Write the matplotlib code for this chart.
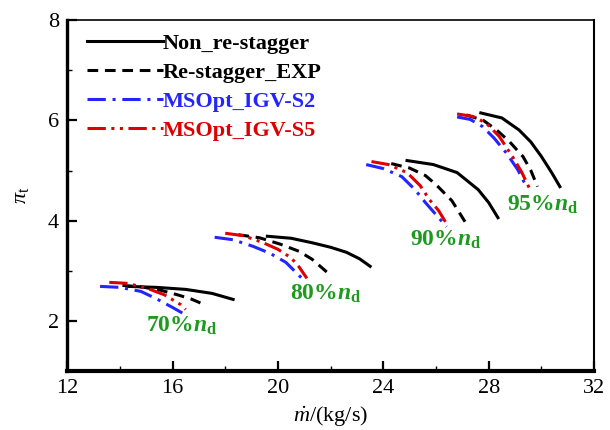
import matplotlib
matplotlib.use('Agg')
import matplotlib.pyplot as plt
from matplotlib.ticker import MultipleLocator

plt.rcParams['font.family'] = ['Liberation Serif', 'DejaVu Serif']
plt.rcParams['mathtext.fontset'] = 'custom'
plt.rcParams['mathtext.rm'] = 'Liberation Serif'
plt.rcParams['mathtext.it'] = 'Liberation Serif:italic'
plt.rcParams['mathtext.bf'] = 'Liberation Serif:bold'
plt.rcParams['mathtext.bfit'] = 'Liberation Serif:italic:bold'

# 70% speed line
ns70_x = [14.3, 15.4, 16.5, 17.5, 18.3]
ns70_y = [2.69, 2.67, 2.63, 2.55, 2.43]
exp70_x = [14.1, 14.8, 15.5, 16.2, 16.7, 17.1]
exp70_y = [2.71, 2.68, 2.62, 2.52, 2.44, 2.35]
s2_70_x = [13.25, 14.0, 14.8, 15.4, 16.0, 16.4]
s2_70_y = [2.69, 2.67, 2.59, 2.44, 2.27, 2.15]
s5_70_x = [13.6, 14.3, 15.1, 15.7, 16.3, 16.5]
s5_70_y = [2.77, 2.75, 2.64, 2.52, 2.33, 2.23]

# 80% speed line
ns80_x = [19.6, 20.5, 21.3, 22.0, 22.6, 23.1, 23.5]
ns80_y = [3.69, 3.65, 3.56, 3.47, 3.37, 3.24, 3.09]
exp80_x = [18.5, 19.3, 20.1, 20.8, 21.3, 22.0]
exp80_y = [3.72, 3.66, 3.53, 3.39, 3.23, 2.91]
s2_80_x = [17.6, 18.3, 19.05, 19.7, 20.3, 20.95]
s2_80_y = [3.67, 3.62, 3.49, 3.35, 3.17, 2.83]
s5_80_x = [18.0, 18.7, 19.4, 20.0, 20.5, 20.8, 21.1]
s5_80_y = [3.75, 3.70, 3.57, 3.43, 3.26, 3.08, 2.85]

# 90% speed line
ns90_x = [24.9, 25.9, 26.8, 27.6, 28.0, 28.35]
ns90_y = [5.20, 5.12, 4.96, 4.62, 4.36, 4.06]
exp90_x = [24.3, 25.0, 25.6, 26.0, 26.6, 27.1]
exp90_y = [5.14, 5.05, 4.90, 4.72, 4.40, 3.98]
s2_90_x = [23.35, 24.0, 24.7, 25.2, 25.6, 26.0, 26.4]
s2_90_y = [5.12, 5.04, 4.88, 4.62, 4.36, 4.12, 3.88]
s5_90_x = [23.55, 24.2, 24.9, 25.4, 25.75, 26.1, 26.4]
s5_90_y = [5.18, 5.12, 4.96, 4.70, 4.42, 4.20, 3.94]

# 95% speed line
ns95_x = [27.7, 28.5, 29.15, 29.6, 30.0, 30.4, 30.7]
ns95_y = [6.15, 6.05, 5.81, 5.57, 5.28, 4.95, 4.68]
exp95_x = [27.15, 27.8, 28.3, 28.8, 29.3, 29.6, 29.85]
exp95_y = [6.11, 6.00, 5.81, 5.57, 5.28, 5.00, 4.68]
s2_95_x = [26.8, 27.3, 27.76, 28.2, 28.67, 29.1, 29.45]
s2_95_y = [6.07, 6.02, 5.88, 5.65, 5.35, 5.02, 4.66]
s5_95_x = [26.8, 27.4, 27.9, 28.4, 28.9, 29.25, 29.55]
s5_95_y = [6.13, 6.08, 5.95, 5.68, 5.28, 4.97, 4.64]

speed_labels = ['70%', '80%', '90%', '95%']
label_x = [15.0, 20.45, 25.0, 28.7]
label_y = [1.9, 2.55, 3.61, 4.32]

series = [
    ('Non_re-stagger', 'black', '-', [(ns70_x, ns70_y), (ns80_x, ns80_y), (ns90_x, ns90_y), (ns95_x, ns95_y)]),
    ('Re-stagger_EXP', 'black', (0, (3.5, 2.2)), [(exp70_x, exp70_y), (exp80_x, exp80_y), (exp90_x, exp90_y), (exp95_x, exp95_y)]),
    ('MSOpt_IGV-S2', '#2424ff', (0, (6, 2.2, 1, 2.2)), [(s2_70_x, s2_70_y), (s2_80_x, s2_80_y), (s2_90_x, s2_90_y), (s2_95_x, s2_95_y)]),
    ('MSOpt_IGV-S5', '#dd0000', (0, (6, 1.8, 1, 1.8, 1, 1.8)), [(s5_70_x, s5_70_y), (s5_80_x, s5_80_y), (s5_90_x, s5_90_y), (s5_95_x, s5_95_y)]),
]

fig = plt.figure(figsize=(6.1, 4.3), dpi=100)
ax = fig.add_axes([0.110, 0.137, 0.864, 0.816])

for name, color, ls, curves in series:
    for i, (xs, ys) in enumerate(curves):
        ax.plot(xs, ys, color=color, linestyle=ls, linewidth=2.2,
                label=name if i == 0 else None)

green = '#1e9a1e'
for lab, lx, ly in zip(speed_labels, label_x, label_y):
    ax.text(lx, ly, lab + r'$\mathbfit{n}_\mathbf{d}$', color=green, fontsize=17,
            fontweight='bold', ha='left', va='center')

ax.set_xlim(12, 32)
ax.set_ylim(1, 8)
ax.xaxis.set_major_locator(MultipleLocator(4))
ax.xaxis.set_minor_locator(MultipleLocator(2))
ax.yaxis.set_major_locator(MultipleLocator(2))
ax.yaxis.set_minor_locator(MultipleLocator(1))
ax.tick_params(which='major', direction='in', length=7, width=1.6, labelsize=16, pad=6)
ax.tick_params(which='minor', direction='in', length=3.5, width=1.0)
ax.tick_params(top=False, right=False, which='both')

ax.spines['left'].set_linewidth(2.4)
ax.spines['bottom'].set_linewidth(3.0)
ax.spines['top'].set_linewidth(1.2)
ax.spines['right'].set_linewidth(1.5)

ax.set_xlabel(r'$\dot{m}$/(kg/s)', fontsize=16, labelpad=4)
ax.set_ylabel(r'$\pi_\mathrm{t}$', fontsize=16, labelpad=12)

leg = ax.legend(loc='upper left', bbox_to_anchor=(0.0, 1.019), frameon=False,
                handlelength=3.4, handletextpad=0.0, labelspacing=0.38,
                prop={'weight': 'bold', 'size': 16})
for text, (_, color, _, _) in zip(leg.get_texts(), series):
    text.set_color(color)

fig.savefig('out.png', dpi=100)
